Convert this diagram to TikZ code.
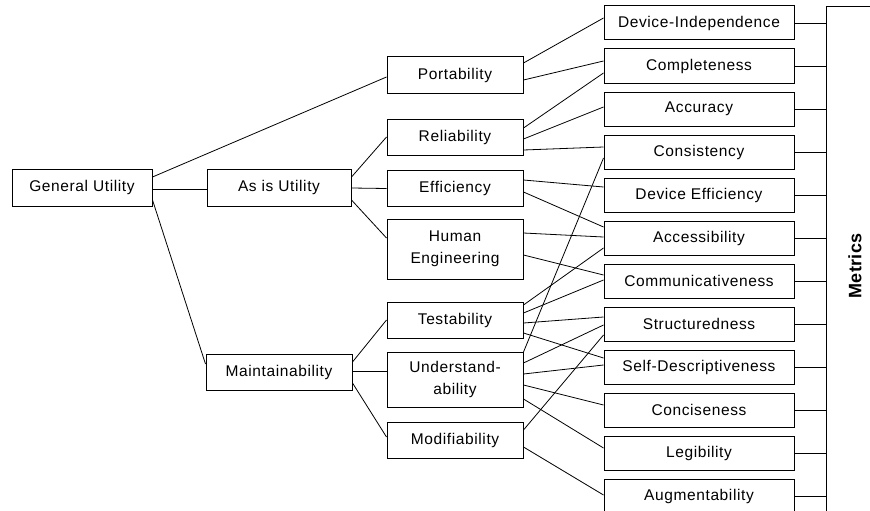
\documentclass[tikz,border=0pt]{standalone}
\usepackage{fontspec}
\setmainfont{Liberation Sans}[LetterSpace=4]
\newfontfamily\boldlabel{Liberation Sans}[LetterSpace=2]
\usetikzlibrary{calc}
\begin{document}
\begin{tikzpicture}[x=1pt,y=-1pt,
  box/.style={draw,line width=1pt,minimum height=36pt,inner sep=0pt,align=center,font=\fontsize{15.5}{21.5}\selectfont},
  lbox/.style={box,minimum width=140pt},
  qbox/.style={box,minimum width=136pt},
  mbox/.style={box,minimum width=190pt,minimum height=34pt},
  conn/.style={line width=0.8pt}]
\useasboundingbox (0,0) rectangle (870,511);
% left
\node[lbox,minimum height=37pt] (gu) at (82,187.5) {General Utility};
\node[lbox,minimum width=144pt,minimum height=37pt] (asis) at (279,187.5) {As is Utility};
\node[lbox,minimum width=146pt] (maint) at (279,372) {Maintainability};
% quality
\node[qbox] (port) at (455,75) {Portability};
\node[qbox] (rel) at (455,137) {Reliability};
\node[qbox] (eff) at (455,188) {Efficiency};
\node[qbox,minimum height=60pt] (he) at (455,249) {Human\\Engineering};
\node[qbox] (test) at (455,320) {Testability};
\node[qbox,minimum height=55pt] (und) at (455,379.5) {Understand-\\ability};
\node[qbox] (mod) at (455,440) {Modifiability};
% metrics
\node[mbox] (devind) at (699,23) {Device-Independence};
\node[mbox] (compl) at (699,66) {Completeness};
\node[mbox] (acc) at (699,109) {Accuracy};
\node[mbox] (cons) at (699,152) {Consistency};
\node[mbox] (deveff) at (699,195) {Device Efficiency};
\node[mbox] (access) at (699,238) {Accessibility};
\node[mbox] (comm) at (699,281) {Communicativeness};
\node[mbox] (struct) at (699,324) {Structuredness};
\node[mbox] (selfd) at (699,367) {Self-Descriptiveness};
\node[mbox] (concise) at (699,410) {Conciseness};
\node[mbox] (leg) at (699,453) {Legibility};
\node[mbox] (augm) at (699,496) {Augmentability};
% bus
\coordinate (bustop) at (826,6);
\coordinate (busbot) at (826,515);
\coordinate (busend) at (871,6);
\draw[conn] (busend) -- (bustop) -- (busbot);
\foreach \m in {devind,compl,acc,cons,deveff,access,comm,struct,selfd,concise,leg,augm}
  \draw[conn] (\m.east) -- (\m.east -| bustop);
\node[rotate=90,font=\boldlabel\fontsize{18}{20}\bfseries] (metrics) at (855,266) {Metrics};
% tree connectors
\draw[conn] ($(gu.east)+(0,-10.5)$) -- ($(port.west)+(0,2)$);
\draw[conn] ($(gu.east)+(0,1.5)$) -- ($(asis.west)+(0,1.5)$);
\draw[conn] ($(gu.east)+(0,12.5)$) -- ($(maint.west)+(0,-8)$);
\draw[conn] ($(asis.east)+(0,-10.5)$) -- (rel.west);
\draw[conn] ($(asis.east)+(0,0.5)$) -- ($(eff.west)+(0,0.5)$);
\draw[conn] ($(asis.east)+(0,12.5)$) -- ($(he.west)+(0,-11)$);
\draw[conn] ($(maint.east)+(0,-10)$) -- (test.west);
\draw[conn] ($(maint.east)+(0,-1)$) -- ($(und.west)+(0,-8.5)$);
\draw[conn] ($(maint.east)+(0,11)$) -- ($(mod.west)+(0,-3)$);
% quality to metrics
\draw[conn] ($(port.east)+(0,-12)$) -- ($(devind.west)+(0,-5)$);
\draw[conn] ($(port.east)+(0,5)$) -- ($(compl.west)+(0,-5)$);
\draw[conn] ($(rel.east)+(0,-9)$) -- ($(compl.west)+(0,7)$);
\draw[conn] ($(rel.east)+(0,2)$) -- ($(acc.west)+(0,-2)$);
\draw[conn] ($(rel.east)+(0,13)$) -- ($(cons.west)+(0,-5)$);
\draw[conn] ($(eff.east)+(0,-8)$) -- ($(deveff.west)+(0,-8)$);
\draw[conn] ($(eff.east)+(0,4)$) -- ($(access.west)+(0,-11)$);
\draw[conn] ($(he.east)+(0,-16)$) -- ($(access.west)+(0,-1)$);
\draw[conn] ($(he.east)+(0,6)$) -- ($(comm.west)+(0,-6)$);
\draw[conn] ($(test.east)+(0,-15)$) -- ($(access.west)+(0,10)$);
\draw[conn] ($(test.east)+(0,-7)$) -- ($(comm.west)+(0,-1)$);
\draw[conn] ($(test.east)+(0,3)$) -- ($(struct.west)+(0,-7)$);
\draw[conn] ($(test.east)+(0,13)$) -- ($(selfd.west)+(0,-9)$);
\draw[conn] ($(und.east)+(0,-27.5)$) -- ($(cons.west)+(0,6)$);
\draw[conn] ($(und.east)+(0,-16.5)$) -- ($(struct.west)+(0,1)$);
\draw[conn] ($(und.east)+(0,-5.5)$) -- ($(selfd.west)+(0,-2)$);
\draw[conn] ($(und.east)+(0,5.5)$) -- ($(concise.west)+(0,-5)$);
\draw[conn] ($(und.east)+(0,19.5)$) -- ($(leg.west)+(0,-5)$);
\draw[conn] ($(mod.east)+(0,-10)$) -- ($(struct.west)+(0,11)$);
\draw[conn] ($(mod.east)+(0,7)$) -- ($(augm.west)+(0,-1)$);
\end{tikzpicture}
\end{document}
